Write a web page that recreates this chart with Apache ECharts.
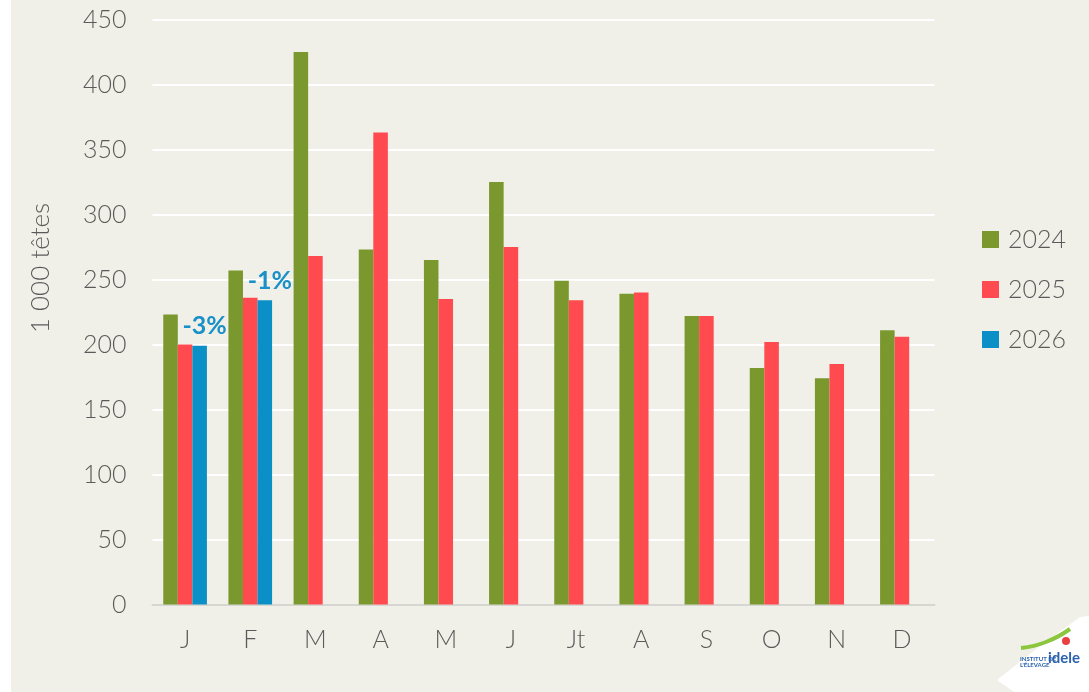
<!DOCTYPE html>
<html>
<head>
<meta charset="utf-8">
<script src="https://cdn.jsdelivr.net/npm/echarts@6/dist/echarts.min.js"></script>
<style>
  html, body { margin: 0; padding: 0; background: #fff; }
  #chart { width: 1089px; height: 692px; }
</style>
</head>
<body>
<div id="chart"></div>
<script>
// données (milliers de têtes)
var months = ["J", "F", "M", "A", "M", "J", "Jt", "A", "S", "O", "N", "D"];
var years = ["2024", "2025", "2026"];
var val2024 = [223, 257, 425, 273, 265, 325, 249, 239, 222, 182, 174, 211];
var val2025 = [200, 236, 268, 363, 235, 275, 234, 240, 222, 202, 185, 206];
var val2026 = [199, 234];
var evol2026 = ["-3%", "-1%"];
var yTicks = { min: 0, max: 450, step: 50 };

var colors = ["#7a982e", "#ff4b50", "#0a8fc6"];
var textGrey = "#5a5a5a";
var font = "Lato";

var chart = echarts.init(document.getElementById("chart"));

var option = {
  backgroundColor: "#f0f0e8",
  animation: false,
  textStyle: { fontFamily: font },
  color: colors,
  grid: { left: 152.5, right: 154.5, top: 19.5, bottom: 87.5, containLabel: false },
  legend: {
    orient: "vertical",
    left: 982,
    top: 227,
    padding: 0,
    itemWidth: 17,
    itemHeight: 17,
    itemGap: 25,
    icon: "rect",
    data: years,
    textStyle: { color: textGrey, fontSize: 25, fontWeight: 300, fontFamily: font, padding: [0, 0, 0, 4] }
  },
  xAxis: {
    type: "category",
    data: months,
    axisTick: { show: false },
    axisLine: { lineStyle: { color: "#d6d6d2", width: 2 } },
    axisLabel: { color: textGrey, fontSize: 25, fontWeight: 300, margin: 23, fontFamily: font }
  },
  yAxis: {
    type: "value",
    min: yTicks.min,
    max: yTicks.max,
    interval: yTicks.step,
    name: "1 000 têtes",
    nameLocation: "middle",
    nameGap: 99,
    // le titre n'est pas centré sur l'axe : décalé vers le haut
    nameTextStyle: { color: textGrey, fontSize: 26, fontWeight: 300, fontFamily: font, padding: [0, 0, 0, 88] },
    axisLine: { show: false },
    axisTick: { show: false },
    axisLabel: { color: textGrey, fontSize: 25, fontWeight: 300, margin: 26, fontFamily: font },
    splitLine: { lineStyle: { color: "#ffffff", width: 2 } }
  },
  series: [
    { name: years[0], type: "bar", data: val2024, barGap: "0%", barCategoryGap: "33%" },
    { name: years[1], type: "bar", data: val2025, barGap: "0%", barCategoryGap: "33%" },
    {
      name: years[2], type: "bar", data: val2026, barGap: "0%", barCategoryGap: "33%",
      label: {
        show: true,
        position: "top",
        distance: 7,
        offset: [5, 0],
        formatter: function (p) { return evol2026[p.dataIndex]; },
        color: "#1a90c8",
        fontSize: 25,
        fontWeight: "bold",
        fontFamily: font
      }
    }
  ],
  graphic: [
    // bande blanche à gauche
    { type: "rect", left: 0, top: 0, shape: { width: 11, height: 692 }, style: { fill: "#ffffff" }, silent: true },
    // logo idele (approximatif)
    {
      type: "polygon",
      shape: { points: [[997, 680], [1040, 646], [1080, 617], [1089, 616], [1089, 692], [1014, 692]] },
      style: { fill: "#ffffff" }, silent: true
    },
    {
      type: "polyline",
      shape: { points: [[1021, 648], [1046, 642], [1070, 629]], smooth: 0.5 },
      style: { stroke: "#8cc63f", lineWidth: 4, fill: null }, silent: true
    },
    {
      type: "circle", shape: { cx: 1066, cy: 641, r: 4 }, style: { fill: "#e8403f" }, silent: true
    },
    { type: "text", left: 1048, top: 651, style: { text: "idele", fill: "#2a62ad", font: "bold 15px Lato" }, silent: true },
    { type: "text", left: 1020, top: 656, style: { text: "INSTITUT DE\nL'ÉLEVAGE", fill: "#2a62ad", font: "bold 6px Lato" }, silent: true }
  ]
};

chart.setOption(option);
</script>
</body>
</html>
